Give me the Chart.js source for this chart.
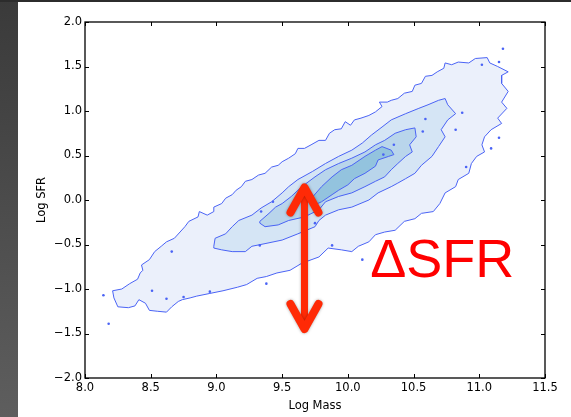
<!DOCTYPE html>
<html lang="en">
<head>
  <meta charset="UTF-8" />
  <title>Log SFR vs Log Mass</title>
  <script src="https://cdn.jsdelivr.net/npm/chart.js"></script>
  <style>
    * { margin: 0; padding: 0; box-sizing: border-box; }
    body { width: 571px; height: 417px; background: #fff; position: relative; overflow: hidden; }
    .edge-left { position: absolute; left: 0; top: 0; width: 18px; height: 417px; background: linear-gradient(#3a3a3a, #5e5e5e); }
    .edge-top { position: absolute; left: 0; top: 0; width: 571px; height: 2px; background: #2c2c2c; }
    #chart { position: absolute; left: 0; top: 0; }
  </style>
</head>
<body>
<div class="edge-left"></div>
<div class="edge-top"></div>
<canvas id="chart" width="571" height="417"></canvas>

<script>
  // axis ticks
  const xTicks = [8.0, 8.5, 9.0, 9.5, 10.0, 10.5, 11.0, 11.5];
  const yTicks = [-2.0, -1.5, -1.0, -0.5, 0.0, 0.5, 1.0, 1.5, 2.0];

  // contour outlines (Log Mass, Log SFR)
  const outerContour = [
    [8.21,-1.02],[8.28,-1.00],[8.34,-0.94],[8.40,-0.89],[8.42,-0.82],[8.44,-0.79],[8.43,-0.73],
    [8.49,-0.67],[8.53,-0.58],[8.58,-0.52],[8.62,-0.47],[8.68,-0.43],[8.76,-0.30],[8.79,-0.24],
    [8.86,-0.19],[8.87,-0.13],[8.93,-0.17],[8.98,-0.13],[8.98,-0.08],[9.04,-0.04],[9.07,0.02],
    [9.12,0.06],[9.15,0.11],[9.19,0.15],[9.22,0.21],[9.27,0.23],[9.32,0.28],[9.37,0.30],
    [9.42,0.37],[9.47,0.39],[9.50,0.43],[9.55,0.47],[9.60,0.52],[9.62,0.58],[9.67,0.58],
    [9.72,0.62],[9.78,0.67],[9.83,0.67],[9.86,0.75],[9.90,0.79],[9.95,0.80],[9.98,0.88],
    [10.02,0.84],[10.05,0.90],[10.10,0.92],[10.16,0.95],[10.21,0.99],[10.26,1.05],[10.24,1.10],
    [10.30,1.10],[10.33,1.12],[10.38,1.14],[10.43,1.20],[10.49,1.22],[10.51,1.29],[10.56,1.31],
    [10.59,1.39],[10.64,1.40],[10.68,1.44],[10.73,1.48],[10.74,1.54],[10.79,1.52],[10.84,1.55],
    [10.92,1.54],[10.97,1.59],[11.06,1.60],[11.08,1.54],[11.14,1.50],[11.22,1.44],[11.17,1.40],
    [11.17,1.31],[11.22,1.22],[11.17,1.10],[11.21,1.03],[11.14,0.92],[11.17,0.86],[11.09,0.79],
    [11.04,0.71],[11.02,0.62],[11.04,0.54],[10.98,0.49],[10.94,0.41],[10.92,0.30],[10.84,0.23],
    [10.82,0.15],[10.74,0.08],[10.70,-0.04],[10.65,-0.13],[10.56,-0.15],[10.51,-0.21],
    [10.43,-0.24],[10.36,-0.34],[10.28,-0.36],[10.21,-0.39],[10.16,-0.47],[10.08,-0.52],
    [10.03,-0.58],[9.95,-0.56],[9.85,-0.54],[9.78,-0.64],[9.65,-0.71],[9.56,-0.79],[9.46,-0.82],
    [9.38,-0.86],[9.31,-0.88],[9.23,-0.95],[9.16,-0.98],[9.05,-1.02],[8.95,-1.05],[8.85,-1.08],
    [8.80,-1.10],[8.74,-1.12],[8.71,-1.14],[8.66,-1.20],[8.62,-1.26],[8.55,-1.25],[8.49,-1.24],
    [8.46,-1.16],[8.41,-1.12],[8.38,-1.19],[8.33,-1.21],[8.25,-1.20],[8.22,-1.10]
  ];
  const midContour = [
    [8.98,-0.52],[8.99,-0.43],[9.07,-0.38],[9.12,-0.30],[9.17,-0.23],[9.27,-0.17],[9.34,-0.09],
    [9.42,-0.02],[9.50,0.08],[9.55,0.15],[9.62,0.23],[9.73,0.32],[9.83,0.41],[9.93,0.49],
    [10.03,0.56],[10.11,0.64],[10.18,0.73],[10.26,0.82],[10.33,0.90],[10.44,0.97],[10.54,1.03],
    [10.61,1.07],[10.69,1.12],[10.74,1.14],[10.76,1.07],[10.82,0.97],[10.76,0.90],[10.71,0.79],
    [10.74,0.71],[10.69,0.60],[10.64,0.49],[10.56,0.39],[10.51,0.30],[10.44,0.24],[10.38,0.19],
    [10.33,0.15],[10.23,0.08],[10.16,0.00],[10.03,-0.08],[9.93,-0.11],[9.83,-0.17],[9.78,-0.23],
    [9.75,-0.30],[9.62,-0.38],[9.50,-0.45],[9.37,-0.49],[9.27,-0.52],[9.22,-0.58],[9.12,-0.58],
    [9.04,-0.56],[8.98,-0.54]
  ];
  const coreContour = [
    [9.33,-0.24],[9.40,-0.15],[9.45,-0.08],[9.50,-0.04],[9.57,0.04],[9.65,0.15],[9.75,0.26],
    [9.83,0.34],[9.93,0.41],[10.03,0.47],[10.13,0.54],[10.21,0.62],[10.28,0.67],[10.36,0.75],
    [10.44,0.79],[10.51,0.81],[10.52,0.71],[10.47,0.62],[10.49,0.54],[10.44,0.49],[10.38,0.41],
    [10.33,0.34],[10.28,0.26],[10.21,0.21],[10.13,0.15],[10.03,0.08],[9.93,0.04],[9.83,-0.02],
    [9.78,-0.11],[9.67,-0.19],[9.55,-0.23],[9.47,-0.28],[9.37,-0.30],[9.33,-0.26]
  ];
  const peakContour = [
    [9.70,-0.02],[9.80,0.15],[9.88,0.26],[9.95,0.34],[10.03,0.39],[10.13,0.49],[10.21,0.56],
    [10.26,0.60],[10.33,0.56],[10.35,0.51],[10.31,0.49],[10.23,0.45],[10.21,0.38],[10.13,0.30],
    [10.05,0.24],[10.00,0.17],[9.93,0.11],[9.88,0.06],[9.80,-0.02],[9.74,-0.06]
  ];
  const strayPoints = [
    [8.14,-1.07],[8.18,-1.39],[11.18,1.70],[11.15,1.55],[11.02,1.52],[10.87,0.98],[10.82,0.79],
    [11.15,0.70],[11.09,0.58],[10.90,0.37],[10.57,0.77],[10.59,0.91],[10.11,-0.67],[9.88,-0.51],
    [9.75,-0.26],[9.34,-0.13],[9.43,-0.02],[9.33,-0.51],[8.66,-0.58],[8.51,-1.02],[8.62,-1.11],
    [8.75,-1.09],[8.95,-1.03],[9.38,-0.94],[10.27,0.51],[10.35,0.62]
  ];

  // annotation
  const arrowX = 9.67;
  const arrowEnds = [0.14, -1.45];
  const deltaText = 'ΔSFR';
  const deltaAnchor = [10.17, -0.87];

  const lineBlue = '#4a63f5';
  const fmt = v => (v < 0 ? '\u2212' : '') + Math.abs(v).toFixed(1);
  const ring = pts => pts.concat([pts[0]]).map(([x, y]) => ({ x, y }));

  const levels = [
    { pts: outerContour, color: '#ebf0fb', order: 4 },
    { pts: midContour, color: '#d5e5f5', order: 3 },
    { pts: coreContour, color: '#b9d5eb', order: 2 },
    { pts: peakContour, color: '#93c3de', order: 1 }
  ];

  const datasets = levels.map(l => ({
    data: ring(l.pts),
    showLine: true,
    fill: 'shape',
    backgroundColor: l.color,
    borderColor: lineBlue,
    borderWidth: 1,
    pointRadius: 0,
    tension: 0,
    order: l.order
  }));
  datasets.push({
    data: strayPoints.map(([x, y]) => ({ x, y })),
    pointRadius: 1.3,
    pointBackgroundColor: lineBlue,
    pointBorderWidth: 0,
    order: 0
  });

  const framePlugin = {
    id: 'frame',
    afterDatasetsDraw(chart) {
      const { ctx, chartArea: a, scales: { x, y } } = chart;
      ctx.save();
      // inward ticks on all four sides
      ctx.strokeStyle = '#000';
      ctx.lineWidth = 1;
      ctx.beginPath();
      xTicks.forEach(v => {
        const px = Math.round(x.getPixelForValue(v)) + 0.5;
        ctx.moveTo(px, a.bottom); ctx.lineTo(px, a.bottom - 4);
        ctx.moveTo(px, a.top); ctx.lineTo(px, a.top + 4);
      });
      yTicks.forEach(v => {
        const py = Math.round(y.getPixelForValue(v)) + 0.5;
        ctx.moveTo(a.left, py); ctx.lineTo(a.left + 4, py);
        ctx.moveTo(a.right, py); ctx.lineTo(a.right - 4, py);
      });
      ctx.stroke();
      ctx.lineWidth = 1.3;
      ctx.strokeRect(a.left, a.top, a.right - a.left, a.bottom - a.top);

      // double arrow
      const ax = x.getPixelForValue(arrowX);
      const top = y.getPixelForValue(arrowEnds[0]);
      const bot = y.getPixelForValue(arrowEnds[1]);
      ctx.strokeStyle = '#ff2a06';
      ctx.lineCap = 'round';
      ctx.lineJoin = 'round';
      ctx.shadowColor = 'rgba(0,0,0,0.35)';
      ctx.shadowBlur = 3;
      ctx.lineWidth = 7;
      ctx.beginPath();
      ctx.moveTo(ax, top + 4); ctx.lineTo(ax, bot - 4);
      ctx.stroke();
      ctx.lineWidth = 8;
      ctx.beginPath();
      ctx.moveTo(ax - 14, top + 25); ctx.lineTo(ax, top); ctx.lineTo(ax + 14, top + 25);
      ctx.moveTo(ax - 14, bot - 25); ctx.lineTo(ax, bot); ctx.lineTo(ax + 14, bot - 25);
      ctx.stroke();
      ctx.shadowColor = 'transparent';

      ctx.fillStyle = '#ff0000';
      ctx.font = '54px "Liberation Sans", Arial, sans-serif';
      ctx.textAlign = 'left';
      ctx.textBaseline = 'alphabetic';
      ctx.fillText(deltaText, x.getPixelForValue(deltaAnchor[0]), y.getPixelForValue(deltaAnchor[1]));
      ctx.restore();
    }
  };

  const tickFont = { family: 'DejaVu Sans', size: 11.5 };

  new Chart(document.getElementById('chart'), {
    type: 'scatter',
    data: { datasets },
    options: {
      responsive: false,
      animation: false,
      devicePixelRatio: 1,
      layout: { padding: { left: 0, right: 26, top: 22, bottom: 0 } },
      plugins: { legend: { display: false }, tooltip: { enabled: false } },
      scales: {
        x: {
          type: 'linear', min: 8, max: 11.5,
          afterBuildTicks: s => { s.ticks = xTicks.map(v => ({ value: v })); },
          afterFit: s => { s.height = 39; },
          grid: { display: false, drawTicks: false }, border: { display: false },
          ticks: { color: '#000', font: tickFont, padding: 3, maxRotation: 0, autoSkip: false, callback: v => fmt(v) },
          title: { display: true, text: 'Log Mass', color: '#000', font: tickFont, padding: { top: 0, bottom: 4 } }
        },
        y: {
          type: 'linear', min: -2, max: 2,
          afterBuildTicks: s => { s.ticks = yTicks.map(v => ({ value: v })); },
          afterFit: s => { s.width = 85; },
          grid: { display: false, drawTicks: false }, border: { display: false },
          ticks: { color: '#000', font: tickFont, padding: 3, autoSkip: false, callback: v => fmt(v) },
          title: { display: true, text: 'Log SFR', color: '#000', font: tickFont, padding: { top: 35, bottom: 0 } }
        }
      }
    },
    plugins: [framePlugin]
  });
</script>
</body>
</html>
